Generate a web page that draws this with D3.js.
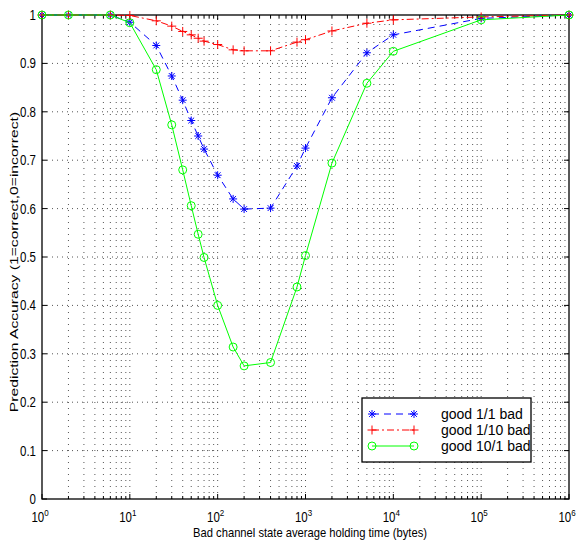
<!DOCTYPE html>
<html><head><meta charset="utf-8">
<script src="https://cdn.jsdelivr.net/npm/d3@7"></script>
<style>
body{margin:0;background:#fff;}
svg text{font-family:"Liberation Sans", Arial, Helvetica, sans-serif;fill:#000;}
</style>
</head><body>
<svg id="chart" width="577" height="541"></svg>
<script>
// ---- data ----
const xValues   = [1, 2, 6, 10, 20, 30, 40, 50, 60, 70, 100, 150, 200, 400, 800, 1000, 2000, 5000, 10000, 100000, 1000000];
const good1to1  = [1, 1, 1, 0.985, 0.937, 0.874, 0.824, 0.782, 0.750, 0.723, 0.669, 0.620, 0.599, 0.601, 0.688, 0.725, 0.829, 0.922, 0.959, 0.993, 1];
const good1to10 = [1, 1, 1, 0.999, 0.988, 0.977, 0.966, 0.959, 0.952, 0.946, 0.939, 0.928, 0.926, 0.926, 0.944, 0.949, 0.967, 0.983, 0.990, 0.996, 1];
const good10to1 = [1, 1, 1, 0.984, 0.887, 0.773, 0.680, 0.606, 0.547, 0.499, 0.400, 0.314, 0.275, 0.282, 0.438, 0.503, 0.694, 0.859, 0.925, 0.990, 1];
const seriesNames = ["good 1/1 bad", "good 1/10 bad", "good 10/1 bad"];
const yTickValues = [0, 0.1, 0.2, 0.3, 0.4, 0.5, 0.6, 0.7, 0.8, 0.9, 1];
const yTickLabels = ["0", "0.1", "0.2", "0.3", "0.4", "0.5", "0.6", "0.7", "0.8", "0.9", "1"];
const xTickExponents = [0, 1, 2, 3, 4, 5, 6];
const xLabel = "Bad channel state average holding time (bytes)";
const yLabel = "Prediction Accuracy (1=correct,0=incorrect)";

// ---- layout ----
const L = 42, R = 569, T = 15, B = 499;
const svg = d3.select("#chart");
const x = d3.scaleLog().domain([1, 1e6]).range([L, R]);
const y = d3.scaleLinear().domain([0, 1]).range([B, T]);

const series = [
  {name: seriesNames[0], values: good1to1,  color: "#0000ff", dash: "7,5",     marker: "star"},
  {name: seriesNames[1], values: good1to10, color: "#ff0000", dash: "7,3,2,3", marker: "plus"},
  {name: seriesNames[2], values: good10to1, color: "#00ff00", dash: null,      marker: "circle"}
];

const minorVals = [];
for (let e = 0; e < 6; e++) for (let m = 2; m <= 9; m++) minorVals.push(m * Math.pow(10, e));
const majorVals = xTickExponents.map(e => Math.pow(10, e));

// ---- grid ----
const grid = svg.append("g").attr("stroke", "#555").attr("stroke-width", 1);
grid.selectAll("line.gx").data(minorVals.concat(majorVals.slice(1, -1))).join("line")
  .attr("stroke-dasharray", "1,5")
  .attr("x1", d => x(d)).attr("x2", d => x(d)).attr("y1", B).attr("y2", T);
grid.selectAll("line.gy").data(yTickValues.slice(1, -1)).join("line")
  .attr("stroke-dasharray", "1,4")
  .attr("x1", L).attr("x2", R).attr("y1", d => y(d)).attr("y2", d => y(d));

// ---- axes box and ticks ----
svg.append("rect").attr("x", L).attr("y", T).attr("width", R - L).attr("height", B - T)
  .attr("fill", "none").attr("stroke", "#000").attr("stroke-width", 1.3);
const tk = svg.append("g").attr("stroke", "#000").attr("stroke-width", 1);
tk.selectAll("line.yl").data(yTickValues).join("line")
  .attr("x1", L).attr("x2", L + 5).attr("y1", d => y(d)).attr("y2", d => y(d));
tk.selectAll("line.yr").data(yTickValues).join("line")
  .attr("x1", R).attr("x2", R - 5).attr("y1", d => y(d)).attr("y2", d => y(d));
tk.selectAll("line.xb").data(majorVals).join("line")
  .attr("x1", d => x(d)).attr("x2", d => x(d)).attr("y1", B).attr("y2", B - 5);
tk.selectAll("line.xt").data(majorVals).join("line")
  .attr("x1", d => x(d)).attr("x2", d => x(d)).attr("y1", T).attr("y2", T + 5);
tk.selectAll("line.xbm").data(minorVals).join("line")
  .attr("x1", d => x(d)).attr("x2", d => x(d)).attr("y1", B).attr("y2", B - 3);
tk.selectAll("line.xtm").data(minorVals).join("line")
  .attr("x1", d => x(d)).attr("x2", d => x(d)).attr("y1", T).attr("y2", T + 3);

// tick labels (slightly tall glyphs as in the reference)
svg.append("g").selectAll("text").data(yTickValues).join("text")
  .attr("transform", d => `translate(${L - 6},${y(d) + 5}) scale(1,1.25)`)
  .attr("text-anchor", "end").attr("font-size", 11.5).text((d, i) => yTickLabels[i]);
const xl = svg.append("g").selectAll("text").data(xTickExponents).join("text")
  .attr("transform", d => `translate(${x(Math.pow(10, d)) - 2},522) scale(1,1.2)`)
  .attr("text-anchor", "middle").attr("font-size", 11.5);
xl.append("tspan").text("10");
xl.append("tspan").attr("dy", -5).attr("font-size", 8).text(d => d);

// axis labels
svg.append("text").attr("transform", `translate(310,537) scale(1,1.2)`)
  .attr("text-anchor", "middle").attr("font-size", 11.2).text(xLabel);
svg.append("text").attr("transform", `translate(18,262) rotate(-90) scale(1.4,1)`)
  .attr("text-anchor", "middle").attr("font-size", 11.2).text(yLabel);

// ---- markers ----
function drawMarker(g, type, color) {
  if (type === "star") {
    const s = 4, d = 2.9;
    g.append("path").attr("d", `M${-s},0L${s},0M0,${-s}L0,${s}M${-d},${-d}L${d},${d}M${-d},${d}L${d},${-d}`)
      .attr("stroke", color).attr("stroke-width", 1).attr("fill", "none");
  } else if (type === "plus") {
    const s = 4.5;
    g.append("path").attr("d", `M${-s},0L${s},0M0,${-s}L0,${s}`)
      .attr("stroke", color).attr("stroke-width", 1).attr("fill", "none");
  } else {
    g.append("circle").attr("r", 4).attr("stroke", color).attr("stroke-width", 1).attr("fill", "none");
  }
}

const line = d3.line().x(d => x(d[0])).y(d => y(d[1]));
series.forEach(s => {
  const pts = xValues.map((xv, i) => [xv, s.values[i]]);
  svg.append("path").datum(pts).attr("d", line).attr("fill", "none")
    .attr("stroke", s.color).attr("stroke-width", 1)
    .attr("stroke-dasharray", s.dash);
  const mg = svg.append("g");
  pts.forEach(p => {
    const g = mg.append("g").attr("transform", `translate(${x(p[0])},${y(p[1])})`);
    drawMarker(g, s.marker, s.color);
  });
});

// ---- legend ----
const lg = svg.append("g");
lg.append("rect").attr("x", 362).attr("y", 398).attr("width", 169).attr("height", 64)
  .attr("fill", "#fff").attr("stroke", "#000").attr("stroke-width", 1.3);
series.forEach((s, i) => {
  const yy = 414 + i * 16;
  lg.append("line").attr("x1", 372).attr("x2", 414).attr("y1", yy).attr("y2", yy)
    .attr("stroke", s.color).attr("stroke-width", 1).attr("stroke-dasharray", s.dash);
  [372, 414].forEach(xx => {
    const g = lg.append("g").attr("transform", `translate(${xx},${yy})`);
    drawMarker(g, s.marker, s.color);
  });
  lg.append("text").attr("x", 441).attr("y", yy + 5).attr("font-size", 14).text(s.name);
});
</script>
</body></html>
